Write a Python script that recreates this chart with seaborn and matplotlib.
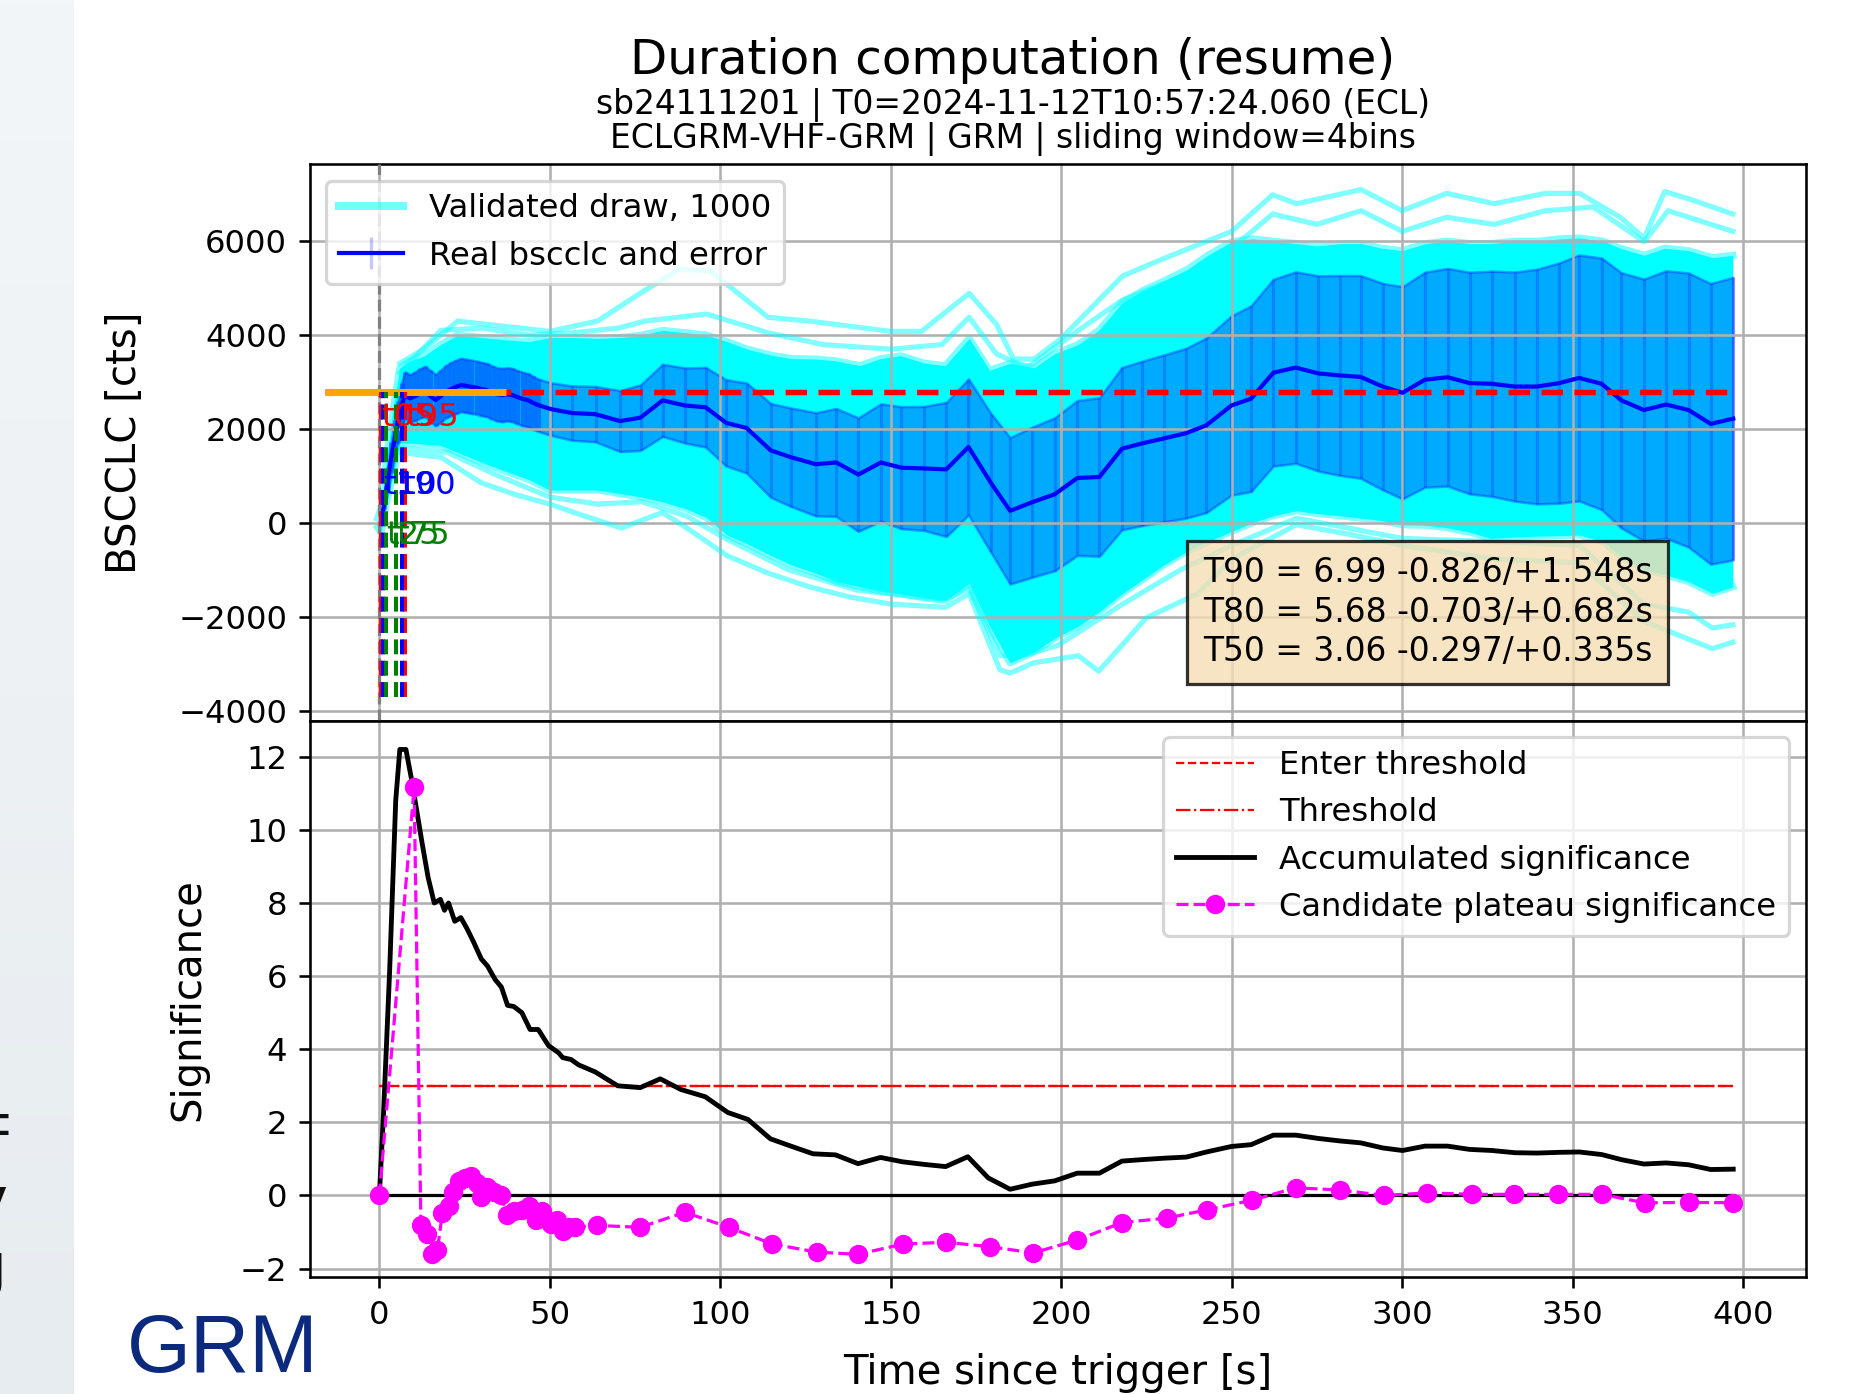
import numpy as np
import matplotlib
matplotlib.use("Agg")
import matplotlib.pyplot as plt
import seaborn as sns
from matplotlib.lines import Line2D
from matplotlib.legend_handler import HandlerTuple

# ---------------------------------------------------------------- data ----
# real background-subtracted cumulative light curve (bscclc), fine bins
t_early = [0.5, 1.5, 2.5, 3.5, 4.5, 5.5, 6.5, 7.5, 9.0, 10.5, 12.0, 13.5,
           15.0, 16.5, 18.0, 19.5, 21.0, 22.5, 24.0, 25.5, 27.0, 28.5, 30.0,
           31.5, 33.0, 34.5, 36.0, 37.5, 39.0, 40.5, 42.0, 43.5, 45.0, 46.5]
v_early = [30, 450, 950, 1400, 1800, 2150, 2500, 2720, 2652, 2700, 2760, 2794,
           2700, 2617, 2700, 2794, 2850, 2900, 2936, 2920, 2900, 2880, 2850,
           2830, 2780, 2740, 2724, 2740, 2724, 2680, 2640, 2617, 2560, 2511]
e_early = [60, 150, 250, 330, 400, 450, 480, 500, 510, 520, 530, 540,
           550, 550, 560, 560, 570, 570, 570, 570, 570, 570, 570,
           570, 570, 570, 570, 570, 570, 570, 570, 570, 570, 560]

# coarser bins after the burst
t_late = [50.2, 56.5, 63.4, 70.6, 76.6, 83.1, 89.7, 95.7, 101.7, 107.7, 114.8,
          120.8, 128.0, 134.0, 140.5, 147.1, 153.1, 159.7, 166.3, 172.8, 179.4,
          185.0, 191.5, 198.1, 204.7, 211.2, 217.8, 223.6, 230.2, 236.7, 242.6,
          249.9, 255.7, 262.2, 268.8, 275.4, 281.9, 287.8, 294.3, 300.1, 306.7,
          313.3, 319.8, 326.4, 333.0, 339.5, 346.1, 351.9, 358.5, 364.3, 370.9,
          377.4, 384.0, 390.5, 397.1]
v_late = [2426, 2340, 2316, 2169, 2243, 2610, 2500, 2463, 2132, 2022, 1544,
          1397, 1250, 1287, 1029, 1287, 1176, 1160, 1140, 1617, 850,
          257, 441, 610, 956, 978, 1581, 1691, 1801, 1912, 2081,
          2500, 2647, 3199, 3309, 3184, 3140, 3110, 2904, 2772, 3051,
          3103, 2978, 2963, 2904, 2904, 2978, 3088, 2963, 2610, 2404,
          2522, 2404, 2110, 2221]
e_late = [560, 580, 590, 650, 700, 770, 800, 850, 920, 960, 1000,
          1050, 1100, 1150, 1210, 1250, 1300, 1320, 1430, 1450, 1480,
          1560, 1600, 1630, 1650, 1690, 1730, 1750, 1780, 1810, 1860,
          1910, 1980, 1990, 2040, 2080, 2130, 2160, 2200, 2260, 2290,
          2320, 2360, 2400, 2440, 2500, 2560, 2620, 2680, 2720, 2790,
          2850, 2920, 2990, 3010]

# envelope of the validated draws (dense core)
t_draw = [-0.5, 0.5, 2, 4, 6, 9, 13, 18, 23, 30, 37, 44, 50, 57, 64, 71, 77,
          83, 90, 96, 102, 108, 115, 121, 128, 134, 141, 147, 153, 160, 166,
          173, 179, 185, 192, 198, 205, 211, 218, 224, 230, 237, 243, 250, 256,
          262, 269, 275, 282, 288, 294, 300, 307, 313, 320, 326, 333, 340, 346,
          352, 359, 364, 371, 377, 384, 391, 397]
draw_hi = [100, 300, 1300, 2400, 3300, 3450, 3550, 3800, 4000, 3950, 3900,
           3860, 3950, 3950, 3930, 3950, 4000, 4100, 4050, 4000, 3860, 3700,
           3570, 3500, 3490, 3450, 3350, 3500, 3560, 3400, 3350, 3930, 3250,
           3400, 3300, 3600, 3800, 4100, 4700, 4950, 5150, 5400, 5700, 5990,
           6050, 6000, 5950, 5900, 5950, 5950, 5850, 5800, 5950, 6000, 5950,
           5950, 6000, 6000, 6050, 6070, 6000, 5850, 5700, 5850, 5800, 5650,
           5700]
draw_lo = [-100, -200, 400, 1000, 1700, 1700, 1680, 1650, 1500, 1290, 1100,
           920, 700, 700, 700, 620, 550, 450, 300, 110, -260, -450, -700, -900,
           -1070, -1250, -1360, -1450, -1510, -1600, -1650, -1290, -2200, -2980,
           -2750, -2460, -2200, -1900, -1500, -1200, -900, -600, -400, -180, 0,
           150, 260, 200, 150, 100, 50, -40, -50, -100, -200, -330, -300, -280,
           -270, -260, -400, -700, -990, -1100, -1250, -1500, -1360]

# individual outlying draws
t_hi1 = [6, 13, 23, 35, 50, 64, 78, 88, 97, 114, 126, 150, 159, 173, 181, 186,
         192, 200, 218, 230, 250, 262, 269, 288, 300, 313, 327, 342, 352, 364,
         371, 377, 385, 397]
v_hi1 = [3400, 3700, 4300, 4200, 4080, 4300, 4960, 5400, 5370, 4380, 4300,
         4080, 4080, 4890, 4230, 3490, 3490, 3930, 5260, 5630, 6210, 6990, 6800,
         7100, 6650, 7020, 6800, 7020, 7020, 6510, 6070, 7060, 6880, 6580]
t_hi2 = [6, 18, 30, 44, 57, 70, 78, 96, 114, 130, 150, 165, 173, 181, 190, 205,
         218, 237, 250, 262, 275, 288, 300, 313, 327, 342, 356, 371, 378, 397]
v_hi2 = [3200, 4100, 4150, 4000, 4050, 4150, 4300, 4450, 4050, 3800, 3700,
         3800, 4380, 3600, 3300, 4100, 4750, 5300, 5850, 6580, 6360, 6650, 6210,
         6510, 6360, 6650, 6730, 5990, 6650, 6210]
t_lo1 = [6, 18, 30, 40, 50, 60, 71, 83, 90, 102, 114, 126, 138, 150, 166, 173,
         182, 185, 192, 205, 211, 225, 240, 250, 269, 285, 300, 327, 352, 371,
         391, 397]
v_lo1 = [1500, 1400, 850, 600, 400, 150, -110, 220, -100, -700, -1070, -1360,
         -1580, -1730, -1800, -1510, -3130, -3200, -2980, -2830, -3160, -2020,
         -1510, -770, -40, -250, -480, -770, -850, -2100, -2680, -2540]
t_lo2 = [6, 20, 35, 50, 64, 77, 90, 102, 120, 140, 160, 166, 173, 182, 190,
         199, 218, 235, 250, 269, 300, 327, 352, 371, 384, 391, 397]
v_lo2 = [1600, 1500, 1000, 550, 400, 450, 150, -350, -1000, -1430, -1600, -1620,
         -1400, -2830, -2800, -2610, -1730, -1000, -480, 100, -330, -400, -480,
         -1730, -1900, -2240, -2170]

# plateau level and percentile times
plateau_level = 2780
plateau_span = [-16.0, 37.1]
line_span = [-16.0, 397.1]
t_pct = {"t05": 0.45, "t10": 1.00, "t25": 1.95, "t75": 5.01, "t90": 6.68, "t95": 7.44}
pct_colors = {"t05": "red", "t95": "red", "t10": "blue", "t90": "blue",
              "t25": "green", "t75": "green"}
pct_label_y = {"red": 2240, "blue": 806, "green": -277}
pct_line_range = [-3700, 2780]
durations = [("T90", 6.99, 0.826, 1.548), ("T80", 5.68, 0.703, 0.682),
             ("T50", 3.06, 0.297, 0.335)]

# significance panel
t_acc = [0, 1.2, 3.0, 4.8, 6.0, 7.8, 9.6, 12.5, 14.3, 16.1, 17.9, 19.1, 20.3,
         22.1, 23.9, 25.7, 27.5, 29.9, 31.7, 34.0, 35.8, 37.6, 39.4, 41.8, 44.2,
         46.6, 49.6, 52.6, 53.8, 56.2, 58.5, 63.3, 69.9, 76.5, 82.4, 88.4, 95.6,
         102.2, 108.1, 114.7, 120.7, 127.2, 133.8, 140.4, 147.0, 153.5, 159.8,
         166.1, 172.6, 178.6, 185.0, 191.5, 198.1, 204.7, 211.2, 217.8, 223.6,
         230.2, 236.7, 242.6, 249.9, 255.7, 262.2, 268.8, 275.4, 281.9, 287.8,
         294.3, 300.1, 306.7, 313.3, 319.8, 326.4, 333.0, 339.5, 346.1, 351.9,
         358.5, 364.3, 370.9, 377.4, 384.0, 390.5, 397.1]
sig_acc = [0, 2.2, 6.1, 10.8, 12.2, 12.2, 11.3, 9.66, 8.7, 8.0, 8.1, 7.8, 8.0,
           7.5, 7.6, 7.3, 6.96, 6.47, 6.28, 5.9, 5.7, 5.2, 5.17, 5.0, 4.54,
           4.54, 4.1, 3.9, 3.77, 3.72, 3.57, 3.38, 3.0, 2.95, 3.19, 2.9, 2.7,
           2.27, 2.08, 1.55, 1.35, 1.14, 1.11, 0.87, 1.04, 0.92, 0.85,
           0.79, 1.06, 0.48, 0.17, 0.31, 0.40, 0.61, 0.61, 0.94, 0.98,
           1.02, 1.05, 1.19, 1.34, 1.39, 1.65, 1.65, 1.56, 1.49, 1.44,
           1.30, 1.23, 1.35, 1.35, 1.26, 1.23, 1.17, 1.16, 1.18, 1.19,
           1.12, 0.98, 0.86, 0.89, 0.84, 0.71, 0.72]
t_plat = [0, 10.2, 12.2, 14.1, 15.3, 17.0, 18.5, 20.5, 21.7, 23.3, 25.1, 26.9,
          28.7, 29.9, 31.7, 33.5, 35.8, 37.3, 39.4, 41.8, 44.0, 46.0, 47.8, 50.2,
          52.0, 53.8, 55.6, 57.3, 63.9, 76.5, 89.6, 102.5, 115.3, 128.4, 140.4,
          153.5, 166.1, 179.0, 191.8, 204.7, 217.8, 230.9, 242.9, 256.0, 268.8,
          281.7, 294.8, 307.4, 320.6, 332.7, 345.6, 358.5, 371.1, 384.0, 397.1]
sig_plat = [0, 11.16, -0.82, -1.06, -1.6, -1.5, -0.48, -0.29, 0.1, 0.39, 0.48,
            0.53, 0.34, -0.05, 0.24, 0.1, 0.0, -0.53, -0.43, -0.39, -0.29,
            -0.68, -0.43, -0.77, -0.68, -0.97, -0.85, -0.87, -0.82, -0.87,
            -0.46, -0.87, -1.33, -1.55, -1.61, -1.33, -1.28, -1.4, -1.57,
            -1.22, -0.74, -0.62, -0.39, -0.13, 0.21, 0.15, 0.0, 0.07, 0.03,
            0.03, 0.03, 0.03, -0.2, -0.19, -0.2]
t_thr = [0, 397.1]
enter_thr = [3, 3]
thr = [3, 3]
zero_level = [0, 0]

# ---------------------------------------------------------------- figure --
DPI = 232
W, H = 1854, 1394
fig = plt.figure(figsize=(W / DPI, H / DPI), dpi=DPI)
fig.patch.set_facecolor("white")

# slide margin on the left
strip = fig.add_axes([0, 0, 74 / W, 1])
grad = np.linspace(0, 1, 256).reshape(-1, 1, 1)
c_top = np.array([243, 246, 248]) / 255
c_bot = np.array([231, 236, 240]) / 255
strip.imshow(c_top + (c_bot - c_top) * grad, aspect="auto", extent=[0, 1, 0, 1])
strip.axis("off")
# clipped slide text at the very edge
for ch, yy in [("=", 1129), ("y", 1204), ("J", 1280), (".", 1387)]:
    fig.text(-26 / W, 1 - yy / H, ch, fontsize=20, color="#111111",
             ha="left", va="center", family="Liberation Sans")

left, width = 309.8 / W, (1805.5 - 309.8) / W
ax1 = fig.add_axes([left, 1 - 721.3 / H, width, (721.3 - 164.4) / H])
ax2 = fig.add_axes([left, 1 - 1277 / H, width, (1277 - 721.3) / H], sharex=ax1)

# ---------------------------------------------------------- upper panel ---
ax1.fill_between(t_draw, draw_lo, draw_hi, color="cyan", lw=0, zorder=0.8)
for tt, vv in [(t_draw, draw_hi), (t_draw, draw_lo)]:
    sns.lineplot(x=tt, y=vv, ax=ax1, color="cyan", alpha=0.5, linewidth=2.2,
                 estimator=None, sort=False, zorder=0.9)
for tt, vv in [(t_hi1, v_hi1), (t_hi2, v_hi2), (t_lo1, v_lo1), (t_lo2, v_lo2)]:
    sns.lineplot(x=tt, y=vv, ax=ax1, color="cyan", alpha=0.5, linewidth=1.6,
                 estimator=None, sort=False, zorder=1.6)

t_real = t_early + t_late
v_real = np.array(v_early + v_late, dtype=float)
e_real = np.array(e_early + e_late, dtype=float)
ax1.fill_between(t_real, v_real - e_real, v_real + e_real, color="blue",
                 alpha=0.33, lw=0.8, zorder=1.0)
# the many short early bins stack up into a darker band
ax1.errorbar(t_early, v_early, yerr=e_early, fmt="none", ecolor="blue",
             alpha=0.3, elinewidth=1.6, zorder=1.1)
eb = ax1.errorbar(t_late, v_late, yerr=e_late, fmt="none", ecolor="blue",
                  alpha=0.22, elinewidth=1.0, zorder=1.1)
sns.lineplot(x=t_real, y=v_real, ax=ax1, color="blue", linewidth=1.3,
             estimator=None, sort=False, zorder=3)

ax1.plot(line_span, [plateau_level] * 2, color="red", linewidth=1.7,
         dashes=(3.9, 2.1), zorder=4)
ax1.plot(plateau_span, [plateau_level] * 2, color="orange", linewidth=2.2,
         solid_capstyle="butt", zorder=4.5)
ax1.axvline(0, color="gray", linestyle="--", linewidth=1.0, zorder=4)

for name in ["t05", "t95", "t10", "t90", "t25", "t75"]:
    c = pct_colors[name]
    ax1.vlines(t_pct[name], pct_line_range[0], pct_line_range[1], colors=c,
               linestyles="--", linewidth=1.25, zorder=5)
    ax1.text(t_pct[name], pct_label_y[c], name, color=c, fontsize=10,
             ha="left", va="center", zorder=6)

box_txt = "\n".join(f"{n} = {v:.2f} -{lo:.3f}/+{hi:.3f}s" for n, v, lo, hi in durations)
ax1.text(0.597, 0.095, box_txt, transform=ax1.transAxes, fontsize=10.2,
         ha="left", va="bottom", zorder=10, linespacing=1.25,
         bbox=dict(boxstyle="square,pad=0.47", facecolor="wheat",
                   edgecolor="black", alpha=0.8, linewidth=1.0))

ax1.set_xlim(-20.4, 418.3)
ax1.set_ylim(-4227, 7637)
ax1.grid(True, color="#b0b0b0", linewidth=0.8)
ax1.tick_params(axis="x", length=0, labelbottom=False)
ax1.tick_params(axis="y", labelsize=10)
ax1.set_ylabel("BSCCLC [cts]", fontsize=12.5)
ax1.yaxis.set_label_coords(-0.110, 0.5)

h_draw = Line2D([], [], color="cyan", alpha=0.55, linewidth=2.5)
h_real = Line2D([], [], color="blue", linewidth=1.3)
ax1.legend([h_draw, (h_real, eb)], ["Validated draw, 1000", "Real bscclc and error"],
           handler_map={tuple: HandlerTuple(ndivide=1, pad=0)},
           loc="upper left", fontsize=10)

# ---------------------------------------------------------- lower panel ---
sns.lineplot(x=t_thr, y=zero_level, ax=ax2, color="black", linewidth=1.0,
             estimator=None, sort=False, zorder=2)
sns.lineplot(x=t_thr, y=enter_thr, ax=ax2, color="red", linewidth=0.7,
             linestyle="--", estimator=None, sort=False, zorder=2)
h_enter = ax2.lines[-1]
sns.lineplot(x=t_thr, y=thr, ax=ax2, color="red", linewidth=0.7,
             linestyle="-.", estimator=None, sort=False, zorder=2)
h_thr = ax2.lines[-1]
sns.lineplot(x=t_acc, y=sig_acc, ax=ax2, color="black", linewidth=1.5,
             estimator=None, sort=False, zorder=3)
h_acc = ax2.lines[-1]
sns.lineplot(x=t_plat, y=sig_plat, ax=ax2, color="magenta", linewidth=1.0,
             linestyle="--", marker="o", markersize=5.5,
             markeredgecolor="magenta", markeredgewidth=0.5,
             estimator=None, sort=False, zorder=4)
h_plat = ax2.lines[-1]

ax2.set_ylim(-2.23, 12.97)
ax2.grid(True, color="#b0b0b0", linewidth=0.8)
ax2.tick_params(labelsize=10)
ax2.set_ylabel("Significance", fontsize=12.5)
ax2.yaxis.set_label_coords(-0.068, 0.5)
ax2.set_xlabel("Time since trigger [s]", fontsize=12.5, labelpad=7)
ax2.legend([h_enter, h_thr, h_acc, h_plat],
           ["Enter threshold", "Threshold", "Accumulated significance",
            "Candidate plateau significance"],
           loc="upper right", fontsize=10, handlelength=2.4)

# ---------------------------------------------------------------- titles --
cx = 1013 / W
fig.text(cx, 1 - 61 / H, "Duration computation (resume)", ha="center",
         va="center", fontsize=15)
fig.text(cx, 1 - 105 / H, "sb24111201 | T0=2024-11-12T10:57:24.060 (ECL)",
         ha="center", va="center", fontsize=10.2)
fig.text(cx, 1 - 139 / H, "ECLGRM-VHF-GRM | GRM | sliding window=4bins",
         ha="center", va="center", fontsize=10.2)

fig.text(126.5 / W, 22.4 / H, "GRM", fontsize=25.5, color="#0b2a7e",
         family="Liberation Sans", ha="left", va="baseline")

fig.savefig("out.png", dpi=DPI)
